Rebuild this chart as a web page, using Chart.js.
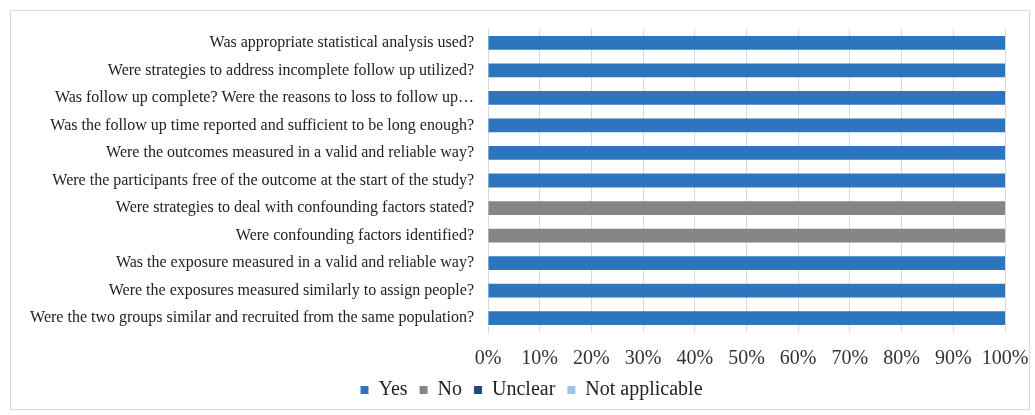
<!DOCTYPE html>
<html>
<head>
<meta charset="utf-8">
<script src="https://cdn.jsdelivr.net/npm/chart.js@4"></script>
<style>
  body { margin: 0; background: #fff; }
  #wrap { width: 1035px; height: 415px; }
</style>
</head>
<body>
<div id="wrap"><canvas id="chart"></canvas></div>
<script>
const questions = [
    'Was appropriate statistical analysis used?',
    'Were strategies to address incomplete follow up utilized?',
    'Was follow up complete? Were the reasons to loss to follow up\u2026',
    'Was the follow up time reported and sufficient to be long enough?',
    'Were the outcomes measured in a valid and reliable way?',
    'Were the participants free of the outcome at the start of the study?',
    'Were strategies to deal with confounding factors stated?',
    'Were confounding factors identified?',
    'Was the exposure measured in a valid and reliable way?',
    'Were the exposures measured similarly to assign people?',
    'Were the two groups similar and recruited from the same population?'
];
const yesValues = [100, 100, 100, 100, 100, 100, 0, 0, 100, 100, 100];
const noValues = [0, 0, 0, 0, 0, 0, 100, 100, 0, 0, 0];
const unclearValues = [0, 0, 0, 0, 0, 0, 0, 0, 0, 0, 0];
const naValues = [0, 0, 0, 0, 0, 0, 0, 0, 0, 0, 0];
const xTicks = [0, 10, 20, 30, 40, 50, 60, 70, 80, 90, 100];

const serif = '"Liberation Serif", "Times New Roman", serif';

const frame = {
    id: 'frame',
    beforeDraw(chart) {
        const c = chart.ctx;
        c.save();
        c.fillStyle = '#fff';
        c.fillRect(0, 0, chart.width, chart.height);
        c.strokeStyle = '#d9d9d9';
        c.lineWidth = 1;
        c.strokeRect(10.5, 10.5, 1019, 399);
        c.restore();
    },
    afterLayout(chart) {
        // nudge legend a bit right, like the original
        chart.legend.left += 48;
    }
};

let ctx = document.getElementById('chart');
let myChart = new Chart(ctx, {
    type: 'bar',
    data: {
        labels: questions,
        datasets: [
            { label: 'Yes', data: yesValues, backgroundColor: '#2e75c0' },
            { label: 'No', data: noValues, backgroundColor: '#858585' },
            { label: 'Unclear', data: unclearValues, backgroundColor: '#24487e' },
            { label: 'Not applicable', data: naValues, backgroundColor: '#9fc3e6' }
        ]
    },
    options: {
        indexAxis: 'y',
        responsive: true,
        maintainAspectRatio: false,
        animation: false,
        categoryPercentage: 0.5,
        barPercentage: 1,
        layout: { padding: { left: 10, right: 30, top: 29, bottom: 5 } },
        scales: {
            x: {
                stacked: true,
                min: 0,
                max: 100,
                afterBuildTicks(scale) {
                    scale.ticks = xTicks.map(v => ({ value: v }));
                },
                afterFit(scale) {
                    scale.height = 36;
                    scale.paddingLeft = 0;
                    scale.paddingRight = 0;
                },
                grid: { color: '#d9d9d9', drawTicks: false },
                border: { display: false },
                ticks: {
                    color: '#333',
                    font: { family: serif, size: 20 },
                    padding: 15,
                    maxRotation: 0,
                    minRotation: 0,
                    autoSkip: false,
                    callback: v => v + '%'
                }
            },
            y: {
                stacked: true,
                afterFit(scale) { scale.width = 478; },
                grid: { display: false },
                border: { display: true, color: '#d9d9d9' },
                ticks: {
                    color: '#222',
                    font: { family: serif, size: 16 },
                    padding: 6
                }
            }
        },
        plugins: {
            legend: {
                position: 'bottom',
                labels: {
                    color: '#222',
                    font: { family: serif, size: 20 },
                    boxWidth: 8,
                    boxHeight: 8,
                    padding: 12
                }
            },
            tooltip: { enabled: false }
        }
    },
    plugins: [frame]
});
</script>
</body>
</html>
